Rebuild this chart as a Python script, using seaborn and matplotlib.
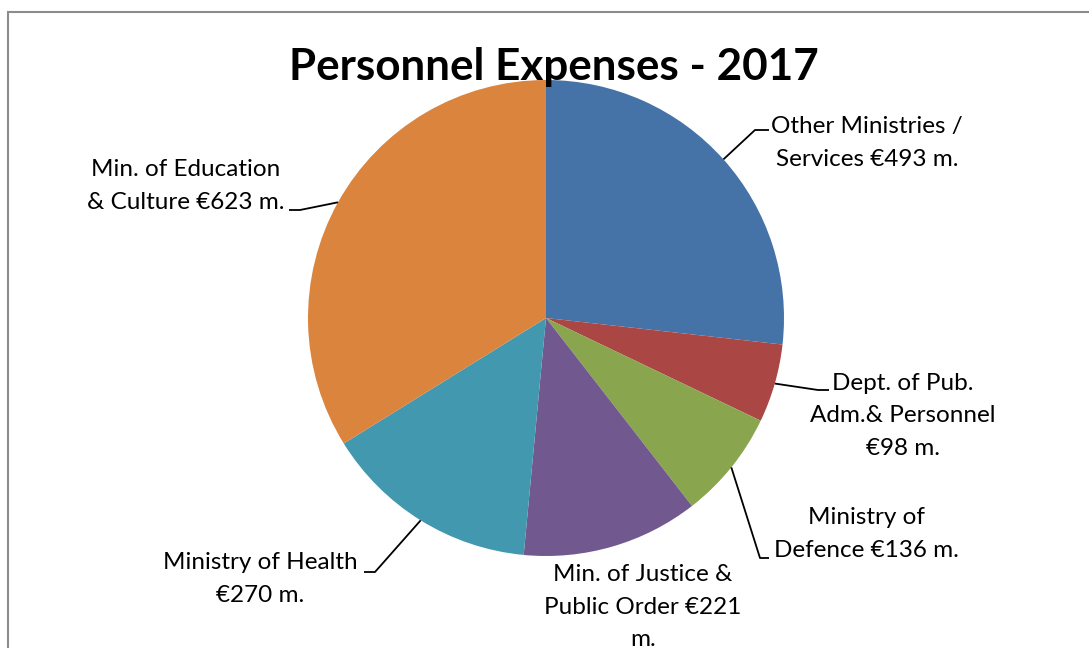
import numpy as np
import matplotlib
matplotlib.use("Agg")
import matplotlib.pyplot as plt
import seaborn as sns
from matplotlib.patches import Rectangle

# data
labels = ["Other Ministries /\nServices €493 m.",
          "Dept. of Pub.\nAdm.& Personnel\n€98 m.",
          "Ministry of\nDefence €136 m.",
          "Min. of Justice &\nPublic Order €221\nm.",
          "Ministry of Health\n€270 m.",
          "Min. of Education\n& Culture €623 m."]
values = [493, 98, 136, 221, 270, 623]
colors = ["#4572A7", "#AA4643", "#89A54E", "#71588F", "#4198AF", "#DB843D"]

# label layout in pixel coords (x, y from top), elbow of leader, stub end
label_pos = [(867, 143), (903, 416), (866, 534), (643, 607), (260, 579), (186, 186)]
elbows = [((755, 130), (769, 130)), ((818, 390), (829, 390)), ((760, 558), (769, 558)),
          None, ((375, 572), (364, 572)), ((300, 210), (289, 210))]

W, H = 1089, 648
cx, cy, R = 546, 318, 238

sns.set_theme(style="white")
plt.rcParams['font.family'] = ['Lato', 'DejaVu Sans']

fig = plt.figure(figsize=(W / 100, H / 100), dpi=100)
ax = fig.add_axes([0, 0, 1, 1])

def fy(y):
    return H - y

wedges, _ = ax.pie(values, colors=colors, startangle=90, counterclock=False,
                   center=(cx, fy(cy)), radius=R, wedgeprops=dict(linewidth=0),
                   frame=True)
ax.set_xlim(0, W)
ax.set_ylim(0, H)
ax.set_aspect('equal')
ax.axis('off')

for w, lab, pos, elb in zip(wedges, labels, label_pos, elbows):
    ax.text(pos[0], fy(pos[1]), lab, ha='center', va='center', ma='center',
            fontsize=17.5, linespacing=1.68, color='black')
    if elb is None:
        continue
    mid = np.deg2rad((w.theta1 + w.theta2) / 2)
    sx = cx + R * np.cos(mid)
    sy = fy(cy) + R * np.sin(mid)
    ax.plot([sx, elb[0][0], elb[1][0]], [sy, fy(elb[0][1]), fy(elb[1][1])],
            color='black', lw=1.3, solid_capstyle='butt')

ax.text(554, fy(80), "Personnel Expenses - 2017", ha='center', va='baseline',
        fontsize=31.7, fontweight='bold', color='black')

ax.add_patch(Rectangle((8, -20), W + 20, fy(12) + 20, fill=False,
                       edgecolor='#8c8c8c', lw=1.5, clip_on=False))

fig.savefig("out.png", dpi=100)
